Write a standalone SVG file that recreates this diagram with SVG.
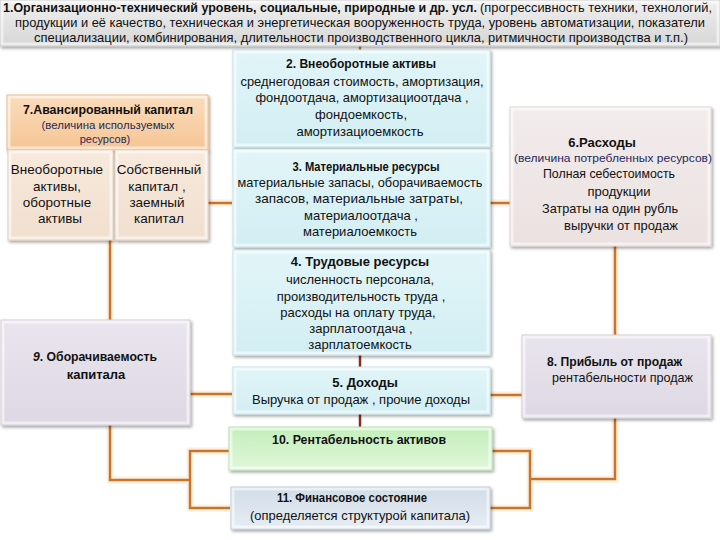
<svg xmlns="http://www.w3.org/2000/svg" width="720" height="540" viewBox="0 0 720 540">
<style>
text{font-family:"Liberation Sans",Arial,sans-serif;font-size:13px;fill:#111;text-anchor:middle}
.b{font-weight:bold}
.s{font-size:11px;fill:#1f2a5a}
.l{text-anchor:start}
.m{font-size:13.5px}
.box{filter:url(#sh)}
.bev{fill:none;stroke:#fff;stroke-opacity:.55;stroke-width:3}
.con{fill:none;stroke:#c8742c;stroke-width:2.5}
.glow{fill:none;stroke:#fde6c8;stroke-width:7;stroke-opacity:.6}
.red{fill:none;stroke:#8b2a20;stroke-width:2.5}
</style>
<defs>
<filter id="sh" x="-10%" y="-10%" width="120%" height="130%"><feDropShadow dx="1.5" dy="2" stdDeviation="1.5" flood-color="#000" flood-opacity="0.35"/></filter>
<linearGradient id="gBan" x1="0" y1="0" x2="0" y2="1"><stop offset="0" stop-color="#f0f0f0"/><stop offset="1" stop-color="#d6d6d6"/></linearGradient>
<linearGradient id="gCy" x1="0" y1="0" x2="0" y2="1"><stop offset="0" stop-color="#e2f5f8"/><stop offset="1" stop-color="#d2eef3"/></linearGradient>
<linearGradient id="gGr" x1="0" y1="0" x2="0" y2="1"><stop offset="0" stop-color="#c4eebb"/><stop offset="1" stop-color="#e0f7da"/></linearGradient>
<linearGradient id="gBl" x1="0" y1="0" x2="0" y2="1"><stop offset="0" stop-color="#d2dde8"/><stop offset="1" stop-color="#e6edf4"/></linearGradient>
<linearGradient id="gLv" x1="0" y1="0" x2="0" y2="1"><stop offset="0" stop-color="#e9e5ee"/><stop offset="1" stop-color="#ddd8e3"/></linearGradient>
<linearGradient id="gPk" x1="0" y1="0" x2="0" y2="1"><stop offset="0" stop-color="#f3ecec"/><stop offset="1" stop-color="#ebe1e1"/></linearGradient>
<linearGradient id="gOr" x1="0" y1="0" x2="0" y2="1"><stop offset="0" stop-color="#fbdcbd"/><stop offset="1" stop-color="#f5c594"/></linearGradient>
<linearGradient id="gPe" x1="0" y1="0" x2="0" y2="1"><stop offset="0" stop-color="#f7e9dc"/><stop offset="1" stop-color="#f1dfcf"/></linearGradient>
</defs>

<g id="connectors">
<g class="glow">
<path d="M208,203H232M490,203H510M110,240V320M190,394H232M490,395H522M615,246V335M110,425V480H190M230,451H190V508H230M615,418V479H530M490,451H530V508H490"/>
</g>
<g class="con">
<path d="M360,46V50"/>
<path d="M208,203H232"/>
<path d="M490,203H510"/>
<path d="M110,240V320"/>
<path d="M190,394H232"/>
<path d="M490,395H522"/>
<path d="M615,246V335"/>
<path d="M110,425V480H190"/>
<path d="M230,451H190V508H230"/>
<path d="M615,418V479H530"/>
<path d="M490,451H530V508H490"/>
</g>
<path class="red" d="M360,355V367"/>
<path class="red" d="M360,414V427"/>
</g>

<g id="n1">
<rect class="box" x="0" y="0" width="720" height="46" fill="url(#gBan)" stroke="#c4c4c4"/>
<rect class="bev" x="2" y="2" width="716" height="42"/>
<text class="b l" x="3" y="12" textLength="474" lengthAdjust="spacingAndGlyphs">1.Организационно-технический уровень, социальные, природные и др. усл.</text>
<text class="l" x="480" y="12" textLength="232" lengthAdjust="spacingAndGlyphs">(прогрессивность техники, технологий,</text>
<text class="l" x="15" y="27" textLength="690" lengthAdjust="spacingAndGlyphs">продукции и её качество, техническая и энергетическая вооруженность труда, уровень автоматизации, показатели</text>
<text class="l" x="34" y="42" textLength="654" lengthAdjust="spacingAndGlyphs">специализации, комбинирования, длительности производственного цикла, ритмичности производства и т.п.)</text>
</g>

<g id="n2">
<rect class="box" x="233" y="50" width="257" height="97" fill="url(#gCy)" stroke="#bfe0e6"/>
<rect class="bev" x="235" y="52" width="253" height="93"/>
<text class="b" x="361" y="68" textLength="150" lengthAdjust="spacingAndGlyphs">2. Внеоборотные активы</text>
<text x="362" y="86" textLength="243" lengthAdjust="spacingAndGlyphs">среднегодовая стоимость, амортизация,</text>
<text x="362" y="102" textLength="213" lengthAdjust="spacingAndGlyphs">фондоотдача, амортизациоотдача ,</text>
<text x="361" y="119">фондоемкость,</text>
<text x="360" y="136">амортизациоемкость</text>
</g>

<g id="n3">
<rect class="box" x="233" y="149" width="257" height="98" fill="url(#gCy)" stroke="#bfe0e6"/>
<rect class="bev" x="235" y="151" width="253" height="94"/>
<text class="b" x="366" y="171" textLength="147" lengthAdjust="spacingAndGlyphs">3. Материальные ресурсы</text>
<text x="360" y="187" textLength="245" lengthAdjust="spacingAndGlyphs">материальные запасы, оборачиваемость</text>
<text x="359" y="203" textLength="208" lengthAdjust="spacingAndGlyphs">запасов, материальные затраты,</text>
<text x="361" y="220">материалоотдача ,</text>
<text x="360" y="236">материалоемкость</text>
</g>

<g id="n4">
<rect class="box" x="233" y="250" width="257" height="105" fill="url(#gCy)" stroke="#bfe0e6"/>
<rect class="bev" x="235" y="252" width="253" height="101"/>
<text class="b" x="360" y="266">4. Трудовые ресурсы</text>
<text x="360" y="284">численность персонала,</text>
<text x="361" y="301">производительность труда ,</text>
<text x="358" y="317">расходы на оплату труда,</text>
<text x="361" y="333">зарплатоотдача ,</text>
<text x="360" y="349">зарплатоемкость</text>
</g>

<g id="n5">
<rect class="box" x="233" y="367" width="257" height="47" fill="url(#gCy)" stroke="#bfe0e6"/>
<rect class="bev" x="235" y="369" width="253" height="43"/>
<text class="b" x="365" y="387">5. Доходы</text>
<text x="361" y="404" textLength="218" lengthAdjust="spacingAndGlyphs">Выручка от продаж , прочие доходы</text>
</g>

<g id="n10">
<rect class="box" x="229" y="427" width="263" height="43" fill="url(#gGr)" stroke="#b6e0ad"/>
<rect class="bev" x="231" y="429" width="259" height="39"/>
<text class="b" x="359" y="444" textLength="174" lengthAdjust="spacingAndGlyphs">10. Рентабельность активов</text>
</g>

<g id="n11">
<rect class="box" x="231" y="487" width="259" height="42" fill="url(#gBl)" stroke="#bccbd8"/>
<rect class="bev" x="233" y="489" width="255" height="38"/>
<text class="b" x="352" y="502" textLength="150" lengthAdjust="spacingAndGlyphs">11. Финансовое состояние</text>
<text x="360" y="520" textLength="220" lengthAdjust="spacingAndGlyphs">(определяется структурой  капитала)</text>
</g>

<g id="n7">
<rect class="box" x="7" y="95" width="201" height="55" fill="url(#gOr)" stroke="#e8b888"/>
<rect class="bev" x="9" y="97" width="197" height="51"/>
<text class="b" x="108" y="114" textLength="170" lengthAdjust="spacingAndGlyphs">7.Авансированный капитал</text>
<text class="s" x="108" y="129" textLength="133" lengthAdjust="spacingAndGlyphs">(величина  используемых</text>
<text class="s" x="105" y="143">ресурсов)</text>
<rect class="box" x="8" y="150" width="105" height="90" fill="url(#gPe)" stroke="#e2cbb6"/>
<rect class="bev" x="10" y="152" width="101" height="86"/>
<text class="m" x="57" y="174">Внеоборотные</text>
<text class="m" x="57" y="191">активы,</text>
<text class="m" x="57" y="207">оборотные</text>
<text class="m" x="60" y="223">активы</text>
<rect class="box" x="115" y="150" width="93" height="90" fill="url(#gPe)" stroke="#e2cbb6"/>
<rect class="bev" x="117" y="152" width="89" height="86"/>
<text class="m" x="159" y="174">Собственный</text>
<text class="m" x="157" y="191">капитал ,</text>
<text class="m" x="157" y="207">заемный</text>
<text class="m" x="159" y="223">капитал</text>
</g>

<g id="n9">
<rect class="box" x="1" y="320" width="189" height="105" fill="url(#gLv)" stroke="#cfc9d6"/>
<rect class="bev" x="3" y="322" width="185" height="101"/>
<text class="b" x="95" y="361" textLength="124" lengthAdjust="spacingAndGlyphs"><tspan font-style="italic">9</tspan>. Оборачиваемость</text>
<text class="b" x="96" y="379">капитала</text>
</g>

<g id="n6">
<rect class="box" x="510" y="107" width="201" height="139" fill="url(#gPk)" stroke="#ddd2d2"/>
<rect class="bev" x="512" y="109" width="197" height="135"/>
<text class="b" x="602" y="147">6.Расходы</text>
<text class="s" x="613" y="162" textLength="198" lengthAdjust="spacingAndGlyphs">(величина потребленных ресурсов)</text>
<text x="609" y="178" textLength="132" lengthAdjust="spacingAndGlyphs">Полная себестоимость</text>
<text x="619" y="196">продукции</text>
<text x="610" y="213" textLength="136" lengthAdjust="spacingAndGlyphs">Затраты на один рубль</text>
<text x="621" y="230" textLength="114" lengthAdjust="spacingAndGlyphs">выручки от продаж</text>
</g>

<g id="n8">
<rect class="box" x="522" y="335" width="189" height="83" fill="url(#gLv)" stroke="#cfc9d6"/>
<rect class="bev" x="524" y="337" width="185" height="79"/>
<text class="b l" x="547" y="366" textLength="135" lengthAdjust="spacingAndGlyphs">8. Прибыль от продаж</text>
<text class="l" x="552" y="382" textLength="141" lengthAdjust="spacingAndGlyphs">рентабельности продаж</text>
</g>
</svg>
